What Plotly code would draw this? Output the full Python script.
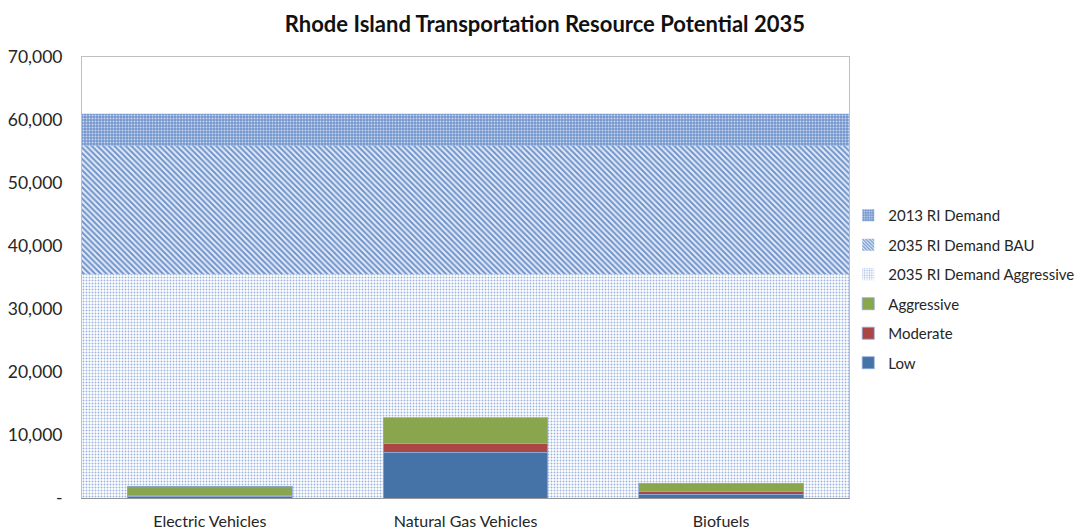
import plotly.graph_objects as go

# Resource potential by technology (stacked scenarios)
categories = ["Electric Vehicles", "Natural Gas Vehicles", "Biofuels"]
low = [250, 7300, 600]
moderate = [150, 1430, 500]
aggressive = [1500, 3970, 1280]

# Demand levels shown as background bands
demand_names = ["2013 RI Demand", "2035 RI Demand BAU", "2035 RI Demand Aggressive"]
demand_values = [61000, 55900, 35500]

y_ticks = [0, 10000, 20000, 30000, 40000, 50000, 60000, 70000]
y_ticktext = ["-" if v == 0 else f"{v:,}" for v in y_ticks]

FONT = "Lato"

fig = go.Figure()

demand_patterns = [
    dict(shape=".", fgcolor="#c9d7ef", bgcolor="#7396cd", size=3, solidity=0.35, fillmode="replace"),
    dict(shape="\\", fgcolor="#6f93cb", bgcolor="#e4ecf8", size=4, solidity=0.5, fillmode="replace"),
    dict(shape=".", fgcolor="#9db6df", bgcolor="#ffffff", size=3, solidity=0.32, fillmode="replace"),
]
for i, (name, val, pat) in enumerate(zip(demand_names, demand_values, demand_patterns)):
    # filled band from zero up to the demand level, across the full plot width
    fig.add_trace(go.Scatter(
        x=[0, 1], y=[val, val], name=name, mode="lines",
        line=dict(width=0, color="#7396cd"), fill="tozeroy",
        fillpattern=pat, xaxis="x", yaxis="y", showlegend=False,
    ))
    # square legend key carrying the same pattern
    fig.add_trace(go.Bar(
        x=[None], y=[None], name=name, xaxis="x2", yaxis="y",
        marker=dict(color=pat["bgcolor"], line=dict(width=0),
                    pattern=dict(shape=pat["shape"], fgcolor=pat["fgcolor"], bgcolor=pat["bgcolor"],
                                 size=3, solidity=pat["solidity"], fillmode="replace")),
        legendrank=i + 1, legendgroup=f"g{i}",
    ))

bar_series = [("Low", low, "#4572a7"), ("Moderate", moderate, "#aa4643"), ("Aggressive", aggressive, "#89a54e")]
for j, (name, vals, col) in enumerate(bar_series):
    fig.add_trace(go.Bar(
        x=categories, y=vals, name=name, marker=dict(color=col, line=dict(color="#8eaadb", width=0.8)),
        width=0.645, xaxis="x2", yaxis="y",
        legendrank=6 - j, legendgroup=f"b{j}",
    ))

fig.update_layout(
    width=1079, height=531,
    margin=dict(l=82, r=230, t=57, b=33, autoexpand=False),
    paper_bgcolor="white", plot_bgcolor="white",
    barmode="stack",
    font=dict(family=FONT, color="#262626"),
    title=dict(text="<b>Rhode Island Transportation Resource Potential 2035</b>",
               font=dict(size=22, family=FONT, color="#111"),
               x=0.505, xref="container", xanchor="center", y=0.955, yanchor="middle"),
    xaxis=dict(range=[0, 1], showticklabels=False, showgrid=False, zeroline=False,
               showline=True, mirror=True, linecolor="#bfbfbf", linewidth=1, fixedrange=True),
    xaxis2=dict(overlaying="x", type="category", range=[-0.5, 2.5], showgrid=False,
                showline=True, linecolor="#969696", linewidth=1, side="bottom",
                tickfont=dict(size=16, family=FONT, color="#262626"), ticks="",
                ticklabelstandoff=9),
    yaxis=dict(range=[0, 70000], tickvals=y_ticks, ticktext=y_ticktext, showgrid=False,
               zeroline=False, showline=True, mirror=True, linecolor="#bfbfbf",
               tickfont=dict(size=17.5, family=FONT, color="#262626"), ticks="", ticklabelstandoff=15),
    legend=dict(x=0.999, xanchor="left", y=0.474, yanchor="middle",
                font=dict(size=15, family=FONT, color="#262626"),
                tracegroupgap=7, itemwidth=30, bgcolor="rgba(0,0,0,0)"),
    showlegend=True,
)

fig.write_html("out.html")
